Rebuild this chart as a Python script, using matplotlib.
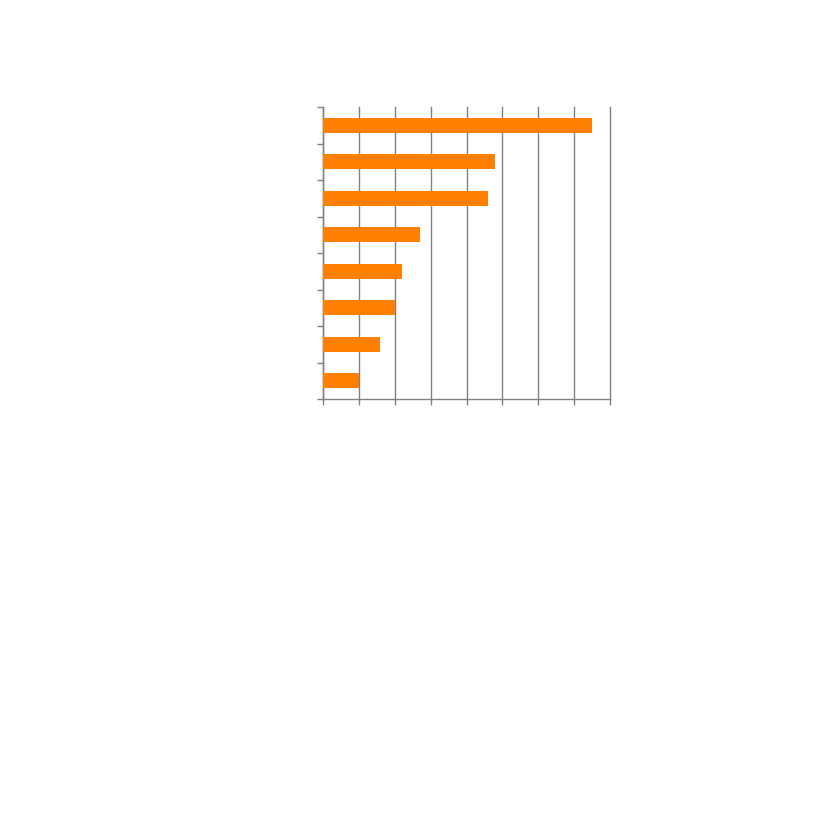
import matplotlib
matplotlib.use("Agg")
import matplotlib.pyplot as plt
import numpy as np

# bar values, top to bottom
categories = ["A", "B", "C", "D", "E", "F", "G", "H"]
values = [7.5, 4.8, 4.6, 2.7, 2.2, 2.0, 1.6, 1.0]
x_ticks = [0, 1, 2, 3, 4, 5, 6, 7, 8]

fig = plt.figure(figsize=(8.27, 8.27), dpi=100)
ax = fig.add_axes([323 / 827, 1 - 399 / 827, 287 / 827, 292 / 827])

pos = np.arange(len(categories))
ax.barh(pos, values, height=0.42, color="#FF8000", zorder=3)

ax.set_xlim(0, 8)
ax.set_ylim(len(categories) - 0.5, -0.5)
ax.set_xticks(x_ticks)
ax.set_yticks(np.arange(len(categories) + 1) - 0.5)
ax.set_xticklabels([])
ax.set_yticklabels([])
ax.tick_params(axis="both", direction="out", length=4, width=1, colors="#808080")

ax.grid(axis="x", color="#808080", linewidth=1, zorder=0)
# keep the last gridline (at the right edge) from being clipped
for line in ax.get_xgridlines():
    line.set_clip_on(False)
for side in ["top", "right"]:
    ax.spines[side].set_visible(False)
for side in ["left", "bottom"]:
    ax.spines[side].set_color("#808080")
    ax.spines[side].set_linewidth(1)

fig.savefig("out.png", dpi=100)
